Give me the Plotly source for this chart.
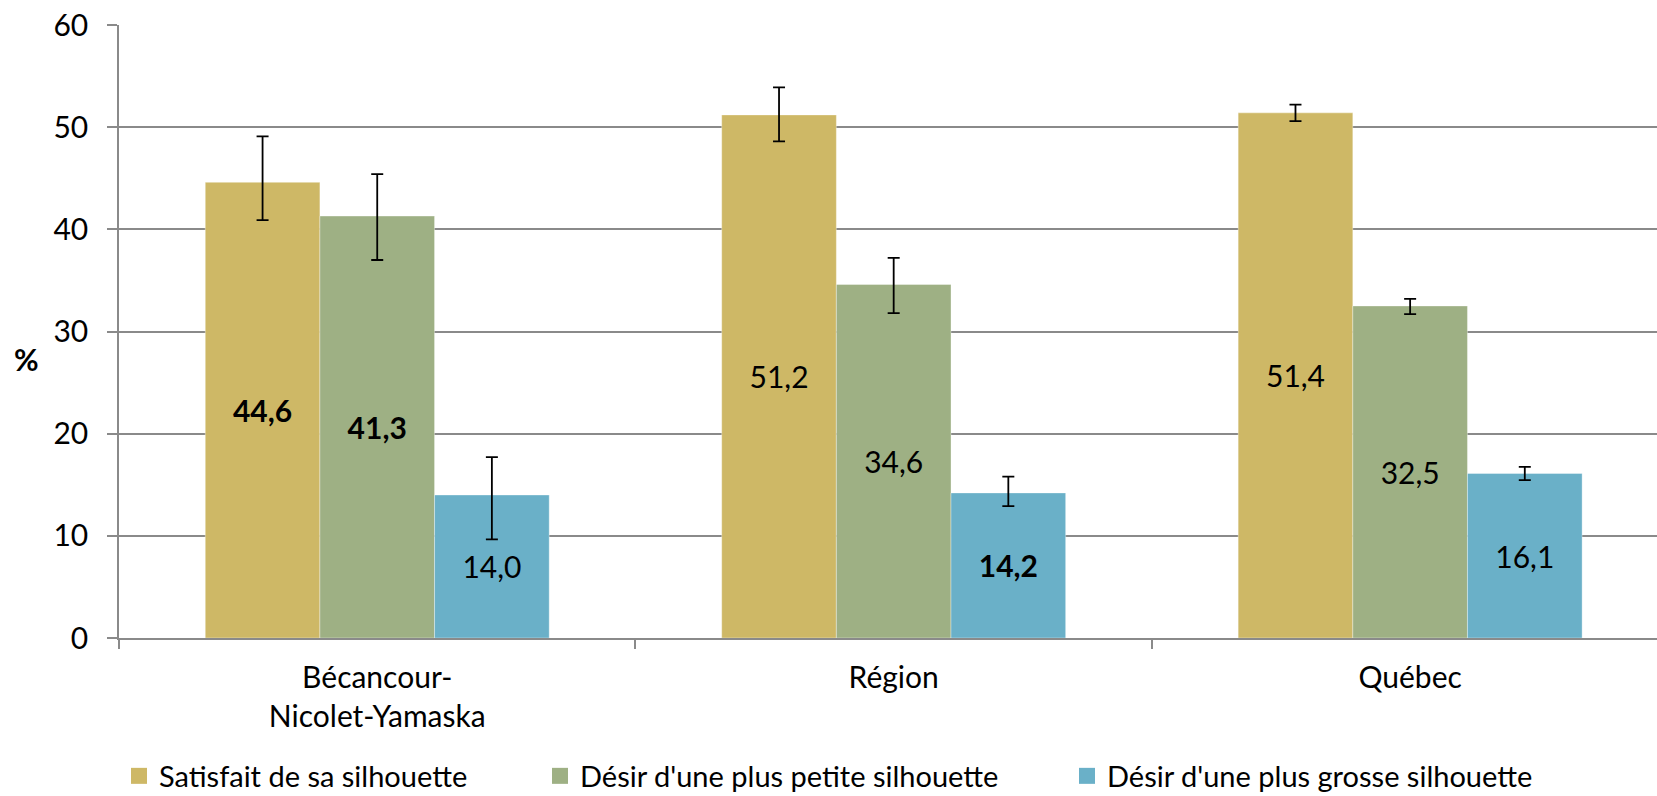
import plotly.graph_objects as go

categories = ["Bécancour-<br>Nicolet-Yamaska", "Région", "Québec"]
series_names = ["Satisfait de sa silhouette", "Désir d'une plus petite silhouette", "Désir d'une plus grosse silhouette"]
colors = ["#CEB866", "#9EB084", "#6AB0C8"]

satisfait = [44.6, 51.2, 51.4]
petite = [41.3, 34.6, 32.5]
grosse = [14.0, 14.2, 16.1]

satisfait_err_plus = [4.5, 2.7, 0.8]
satisfait_err_minus = [3.7, 2.6, 0.8]
petite_err_plus = [4.1, 2.6, 0.7]
petite_err_minus = [4.3, 2.8, 0.8]
grosse_err_plus = [3.7, 1.6, 0.65]
grosse_err_minus = [4.35, 1.3, 0.65]

satisfait_bold = [True, False, False]
petite_bold = [True, False, False]
grosse_bold = [False, True, False]

y_ticks = [0, 10, 20, 30, 40, 50, 60]

FONT = "Lato"
FS = 30
LEG_FS = 29
GRID = "#8a8a8a"

values = [satisfait, petite, grosse]
err_plus = [satisfait_err_plus, petite_err_plus, grosse_err_plus]
err_minus = [satisfait_err_minus, petite_err_minus, grosse_err_minus]
bolds = [satisfait_bold, petite_bold, grosse_bold]
legends = ["legend", "legend2", "legend3"]


def fmt(v, b):
    s = f"{v:.1f}".replace(".", ",")
    return f"<b>{s}</b>" if b else s


fig = go.Figure()
for i in range(3):
    fig.add_trace(go.Bar(
        x=categories, y=values[i], name=series_names[i],
        marker=dict(color=colors[i], line=dict(width=1, color="rgba(255,255,255,0.35)")),
        text=[fmt(v, b) for v, b in zip(values[i], bolds[i])],
        textposition="inside", insidetextanchor="middle", textangle=0,
        constraintext="none",
        textfont=dict(family=FONT, size=FS, color="black"),
        error_y=dict(type="data", symmetric=False, array=err_plus[i], arrayminus=err_minus[i],
                     color="black", thickness=1.8, width=6),
        showlegend=False, legendgroup=f"g{i}",
    ))
for i in range(3):
    fig.add_trace(go.Scatter(
        x=[None], y=[None], mode="markers", name=series_names[i],
        marker=dict(symbol="square", size=18, color=colors[i]),
        legend=legends[i], legendgroup=f"g{i}", showlegend=True,
    ))

leg_common = dict(orientation="h", xref="container", yref="container", yanchor="middle",
                  y=1 - 776 / 796, xanchor="left", bgcolor="rgba(0,0,0,0)",
                  font=dict(family=FONT, size=LEG_FS, color="black"))

fig.update_layout(
    width=1657, height=796,
    margin=dict(l=119, r=0, t=24.5, b=158.3, pad=0),
    paper_bgcolor="white", plot_bgcolor="white",
    barmode="group", bargap=0.334, bargroupgap=0,
    font=dict(family=FONT, size=FS, color="black"),
    legend=dict(x=119 / 1657, **leg_common),
    legend2=dict(x=540 / 1657, **leg_common),
    legend3=dict(x=1067 / 1657, **leg_common),
    xaxis=dict(
        type="category", range=[-0.5, 2.478],
        showline=True, linecolor=GRID, linewidth=1.5,
        ticks="outside", tickson="boundaries", ticklen=9, tickcolor=GRID, tickwidth=1.5,
        showgrid=False, tickfont=dict(family=FONT, size=FS, color="black"),
        ticklabelstandoff=12,
    ),
    yaxis=dict(
        range=[0, 60], tickvals=y_ticks, showgrid=True, gridcolor=GRID, gridwidth=1.5,
        showline=True, linecolor=GRID, linewidth=1.5, zeroline=False,
        ticks="outside", ticklen=10, tickcolor=GRID, tickwidth=1.5,
        tickfont=dict(family=FONT, size=FS, color="black"),
        ticklabelstandoff=13,
    ),
    annotations=[dict(
        text="<b>%</b>", xref="paper", yref="paper", x=(26 - 119) / 1538, y=27.3 / 60,
        showarrow=False, xanchor="center", yanchor="middle",
        font=dict(family=FONT, size=FS, color="black"),
    )],
)

fig.write_html(
    "out.html",
    config={"displayModeBar": False},
    post_script="document.body.style.margin='0';document.body.style.overflow='hidden';",
)
